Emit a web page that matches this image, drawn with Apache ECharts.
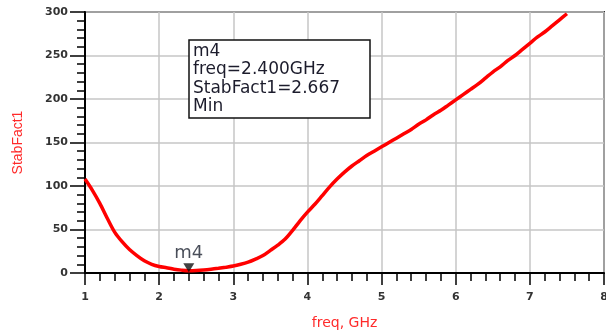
<!DOCTYPE html>
<html>
<head>
<meta charset="utf-8">
<script src="https://cdn.jsdelivr.net/npm/echarts@6/dist/echarts.min.js"></script>
<style>
html,body{margin:0;padding:0;background:#fff;}
#chart{width:606px;height:331px;}
</style>
</head>
<body>
<div id="chart"></div>
<script>
// Data
const freqGHz = [1.0,1.1,1.2,1.3,1.4,1.5,1.6,1.7,1.8,1.9,2.0,2.1,2.2,2.3,2.4,2.5,2.6,2.7,2.8,2.9,3.0,3.1,3.2,3.3,3.4,3.5,3.6,3.7,3.8,3.9,4.0,4.1,4.2,4.3,4.4,4.5,4.6,4.7,4.8,4.9,5.0,5.1,5.2,5.3,5.4,5.5,5.6,5.7,5.8,5.9,6.0,6.1,6.2,6.3,6.4,6.5,6.6,6.7,6.8,6.9,7.0,7.1,7.2,7.3,7.4,7.5];
const stabFact1 = [108,95,80,63,47,36,27,20,14,10,7.5,6,4.4,3.3,2.667,2.9,3.5,4.4,5.5,6.7,8,10,12.5,16,20,26,32,39,49,60,70,79,89,99,108,116,123,129,135,140,145,150,155,160,165,171,176,182,187,193,199,205,211,217,224,231,237,244,250,257,264,271,277,284,291,298];
const markerName = 'm4';
const markerFreq = 2.4;
const markerValue = 2.667;
const markerMode = 'Min';
const xTicks = [1,2,3,4,5,6,7,8];
const yTicks = [0,50,100,150,200,250,300];

const lineData = freqGHz.map((f, i) => [f, stabFact1[i]]);
const annotation = [
  markerName,
  'freq=' + markerFreq.toFixed(3) + 'GHz',
  'StabFact1=' + markerValue.toFixed(3),
  markerMode
].join('\n');

const chart = echarts.init(document.getElementById('chart'));
const labelFont = {fontFamily: 'DejaVu Sans', fontWeight: 'bold', fontSize: 11, color: '#333'};
chart.setOption({
  animation: false,
  backgroundColor: '#fff',
  title: {
    text: annotation, left: 189, top: 40,
    padding: [2, 30, 2, 4],
    backgroundColor: '#fff', borderColor: '#111', borderWidth: 1.5,
    textStyle: {fontFamily: 'DejaVu Sans', fontSize: 17, fontWeight: 'normal', lineHeight: 18.5, color: '#1c1c2c'}
  },
  grid: {left: 85, right: 2, top: 12, bottom: 58, show: true, borderColor: '#333', borderWidth: 2, backgroundColor: 'transparent', outerBoundsMode: 'none'},
  xAxis: {
    type: 'value', min: xTicks[0], max: xTicks[xTicks.length - 1], interval: 1,
    name: 'freq, GHz', nameLocation: 'middle', nameGap: 43,
    nameTextStyle: {fontFamily: 'DejaVu Sans', fontSize: 14, color: '#ff2a2a'},
    axisLine: {show: true, onZero: false, lineStyle: {color: '#000', width: 2}},
    axisTick: {show: true, inside: false, length: 12, lineStyle: {color: '#000', width: 1.5}},
    minorTick: {show: true, splitNumber: 5, length: 8, lineStyle: {color: '#000', width: 1.5}},
    axisLabel: Object.assign({show: true, margin: 19}, labelFont),
    splitLine: {show: true, lineStyle: {color: '#c6c6c6', width: 1.5}}
  },
  yAxis: {
    type: 'value', min: yTicks[0], max: yTicks[yTicks.length - 1], interval: 50,
    name: 'StabFact1', nameLocation: 'middle', nameGap: 60,
    nameTextStyle: {fontFamily: 'Liberation Sans', fontSize: 14, color: '#ff2a2a'},
    axisLine: {show: true, onZero: false, lineStyle: {color: '#000', width: 2}},
    axisTick: {show: true, inside: false, length: 15, lineStyle: {color: '#000', width: 1.5}},
    minorTick: {show: true, splitNumber: 5, length: 8, lineStyle: {color: '#000', width: 1.5}},
    axisLabel: Object.assign({show: true, margin: 17}, labelFont),
    splitLine: {show: true, lineStyle: {color: '#c6c6c6', width: 1.5}}
  },
  series: [
    {
      type: 'line', data: lineData, showSymbol: false, smooth: 0.3,
      lineStyle: {color: '#ff0000', width: 3.5}, z: 3
    },
    {
      type: 'scatter', data: [[markerFreq, markerValue]],
      symbol: 'triangle', symbolRotate: 180, symbolSize: [11, 9], symbolOffset: [0, -3],
      itemStyle: {color: '#111'}, z: 4,
      label: {show: true, position: 'top', distance: 1, formatter: markerName,
        fontFamily: 'DejaVu Sans', fontSize: 18, color: '#1c2230'}
    }
  ]
});
</script>
</body>
</html>
